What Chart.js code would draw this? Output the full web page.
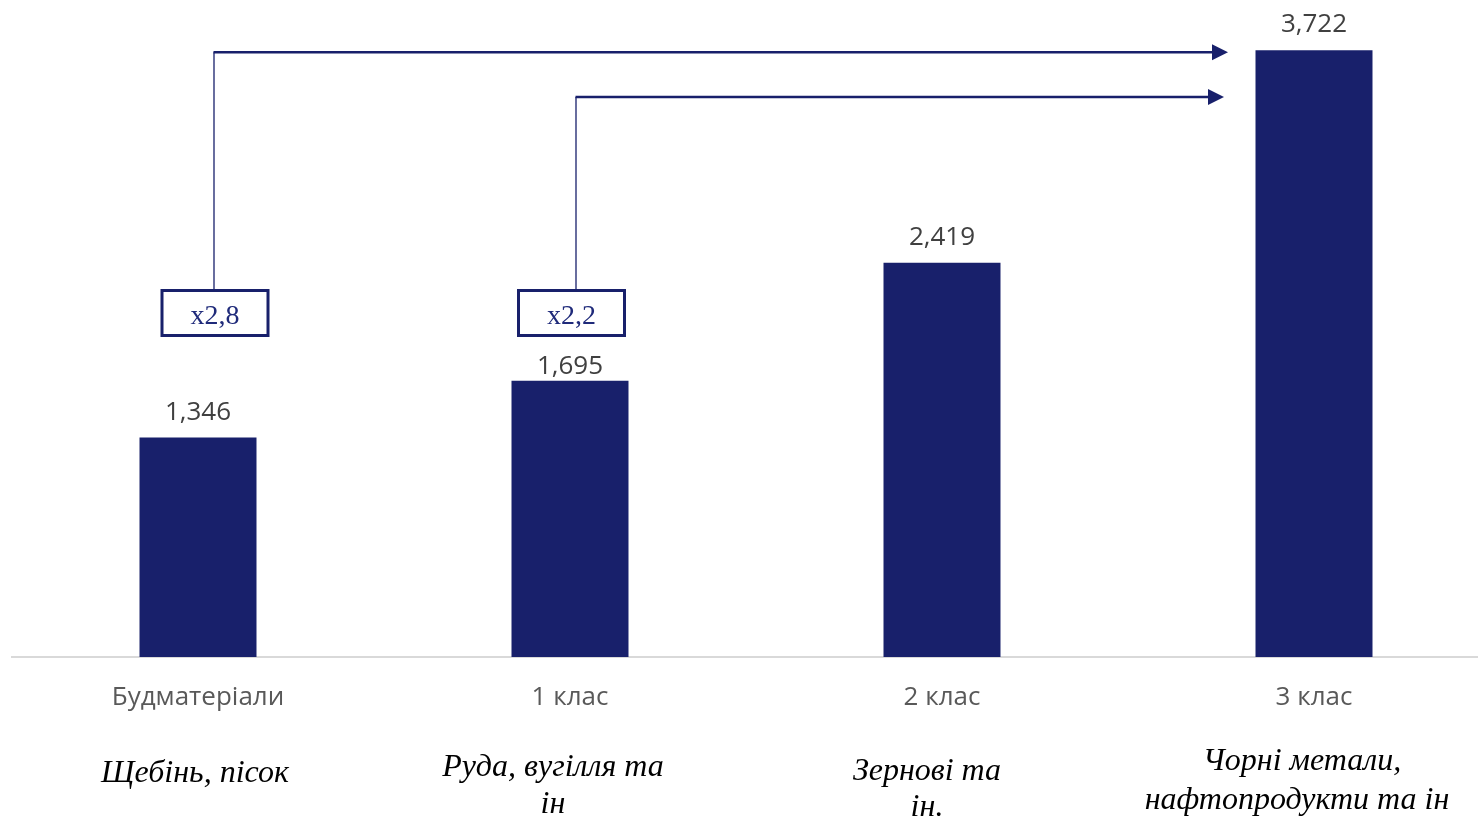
<!DOCTYPE html>
<html>
<head>
<meta charset="utf-8">
<script src="https://cdn.jsdelivr.net/npm/chart.js@4"></script>
<style>
html,body{margin:0;padding:0;background:#fff;overflow:hidden;width:1478px;height:820px;}
#wrap{width:1500px;height:820px;}
</style>
</head>
<body>
<div id="wrap"><canvas id="c" width="1500" height="820"></canvas></div>
<script>
const categories = ["Будматеріали", "1 клас", "2 клас", "3 клас"];
const values = [1346, 1695, 2419, 3722];
const valueLabels = ["1,346", "1,695", "2,419", "3,722"];
const subLabels = [["Щебінь, пісок"], ["Руда, вугілля та", "ін"], ["Зернові та", "ін."], ["Чорні метали,", "нафтопродукти та ін"]];
const multipliers = ["x2,8", "x2,2"];

const NAVY = "#18206b";

const annotPlugin = {
  id: "annot",
  afterDatasetsDraw(chart) {
    const ctx = chart.ctx;
    const xs = chart.scales.x, ys = chart.scales.y;
    const meta = chart.getDatasetMeta(0);
    ctx.save();
    // value labels
    ctx.font = "26px 'Open Sans'";
    ctx.fillStyle = "#404040";
    ctx.textAlign = "center";
    ctx.textBaseline = "alphabetic";
    const lift = [18, 7, 18, 18];
    meta.data.forEach((bar, i) => {
      ctx.fillText(valueLabels[i], bar.x, bar.y - lift[i]);
    });
    // italic sub labels
    ctx.font = "italic 32px 'Liberation Serif'";
    ctx.fillStyle = "#000";
    ctx.textBaseline = "middle";
    const dx = [-3, -17, -15, -12];
    const top = [774, 768, 772, 762];
    const lh = [38, 37, 36, 39];
    subLabels.forEach((lines, i) => {
      const cx = xs.getPixelForValue(i) + dx[i];
      lines.forEach((t, k) => ctx.fillText(t, cx + (k === 1 && i === 3 ? -5 : 0), top[i] + k * lh[i]));
    });
    // boxes + arrows
    const boxOff = [17, 1.5];
    const arrowY = [ys.getPixelForValue(values[3]) + 2, 97];
    const tipX = [1228, 1224];
    const boxTop = 289, boxH = 48, boxW = 109;
    for (let i = 0; i < 2; i++) {
      const cx = xs.getPixelForValue(i) + boxOff[i];
      const lx = i === 0 ? cx - 1 : cx + 4.5;
      ctx.strokeStyle = NAVY;
      ctx.lineWidth = 1.3;
      ctx.beginPath();
      ctx.moveTo(lx, boxTop);
      ctx.lineTo(lx, arrowY[i]);
      ctx.stroke();
      ctx.lineWidth = 2.5;
      ctx.beginPath();
      ctx.moveTo(lx - 0.5, arrowY[i]);
      ctx.lineTo(tipX[i] - 14, arrowY[i]);
      ctx.stroke();
      ctx.fillStyle = NAVY;
      ctx.beginPath();
      ctx.moveTo(tipX[i], arrowY[i]);
      ctx.lineTo(tipX[i] - 16, arrowY[i] - 8);
      ctx.lineTo(tipX[i] - 16, arrowY[i] + 8);
      ctx.closePath();
      ctx.fill();
      ctx.fillStyle = "#fff";
      ctx.fillRect(cx - boxW / 2, boxTop, boxW, boxH);
      ctx.lineWidth = 3;
      ctx.strokeStyle = NAVY;
      ctx.strokeRect(cx - boxW / 2 + 1.5, boxTop + 1.5, boxW - 3, boxH - 3);
      ctx.fillStyle = "#1f2a7a";
      ctx.font = "28px 'Liberation Serif'";
      ctx.textAlign = "center";
      ctx.textBaseline = "middle";
      ctx.fillText(multipliers[i], cx, boxTop + boxH / 2 + 4);
    }
    ctx.restore();
  }
};

new Chart(document.getElementById("c"), {
  type: "bar",
  data: {
    labels: categories,
    datasets: [{
      data: values,
      backgroundColor: NAVY,
      barPercentage: 0.3145,
      categoryPercentage: 1
    }]
  },
  options: {
    responsive: false,
    animation: false,
    layout: { padding: { top: 5, left: 12, right: 0, bottom: 0 } },
    plugins: { legend: { display: false }, tooltip: { enabled: false } },
    scales: {
      y: { display: false, min: 0, max: 4000 },
      x: {
        grid: { display: false, drawTicks: false },
        border: { display: true, color: "#d9d9d9", width: 2 },
        ticks: { color: "#595959", font: { family: "'Open Sans'", size: 26 }, padding: 25, maxRotation: 0 },
        afterFit(scale) { scale.height = 163; }
      }
    }
  },
  plugins: [annotPlugin]
});
</script>
</body>
</html>
